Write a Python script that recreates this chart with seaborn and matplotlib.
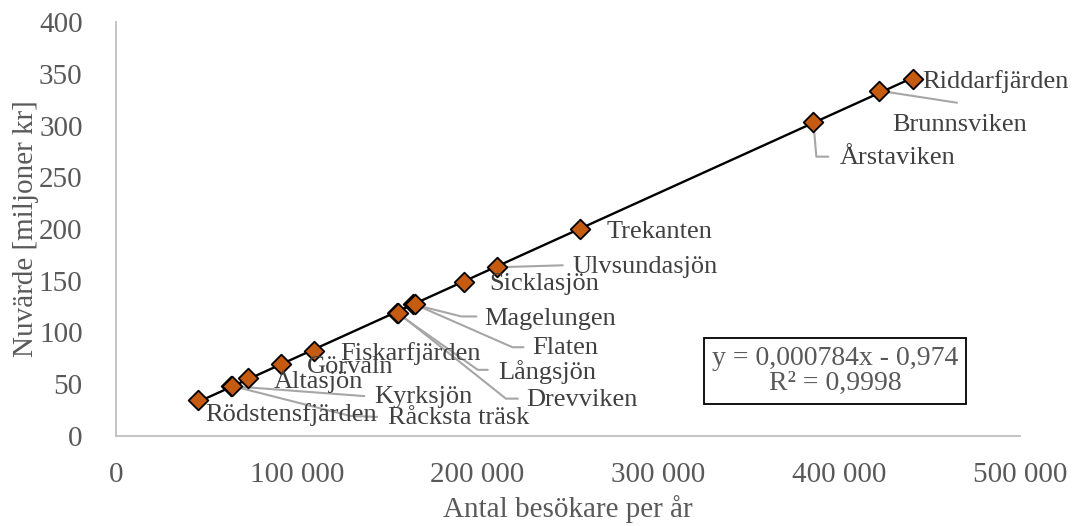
import numpy as np
import pandas as pd
import matplotlib.pyplot as plt
import seaborn as sns

# Data
lakes = ["Rödstensfjärden", "Kyrksjön", "Råcksta träsk", "Altasjön", "Görvaln",
         "Fiskarfjärden", "Långsjön", "Drevviken", "Magelungen", "Flaten",
         "Sicklasjön", "Ulvsundasjön", "Trekanten", "Årstaviken", "Brunnsviken",
         "Riddarfjärden"]
visitors = [45500, 63800, 64200, 73200, 91300,
            109700, 155300, 155900, 164500, 165100,
            192500, 210600, 256600, 385700, 422000,
            440700]
present_value = [34.8, 48.2, 48.4, 56.3, 69.3,
                 82.1, 119.0, 119.2, 127.1, 127.3,
                 149.1, 163.0, 200.0, 303.7, 333.6,
                 344.6]

x_ticks = [0, 100000, 200000, 300000, 400000, 500000]
x_ticklabels = ["0", "100 000", "200 000", "300 000", "400 000", "500 000"]
y_ticks = list(range(0, 401, 50))

# Label layout: text offset from the marker in pixels (right, down),
# and optional leader-line vertices (same units)
label_offsets = {
    "Rödstensfjärden": (7, 15, []),
    "Kyrksjön": (143, 11, [(133, 10)]),
    "Råcksta träsk": (156, 32, [(118, 30), (145, 31)]),
    "Altasjön": (25, 4, []),
    "Görvaln": (26, 3, []),
    "Fiskarfjärden": (26, 2, []),
    "Långsjön": (101, 59, [(81, 57), (91, 57)]),
    "Drevviken": (128, 87, [(108, 86), (120, 86)]),
    "Magelungen": (71, 15, [(48, 12), (63, 12)]),
    "Flaten": (118, 44, [(98, 43), (109, 43)]),
    "Sicklasjön": (25, 2, []),
    "Ulvsundasjön": (76, 0, [(66, -2)]),
    "Trekanten": (27, 3, []),
    "Årstaviken": (26, 36, [(3, 35), (15, 35)]),
    "Brunnsviken": (13, 34, [(78, 12)]),
    "Riddarfjärden": (9, 2, []),
}

df = pd.DataFrame({"lake": lakes, "visitors": visitors, "value": present_value})

sns.set_theme(style="white")
plt.rcParams["font.family"] = ["Liberation Serif", "DejaVu Serif"]

TEXT_GREY = "#595959"
LABEL_GREY = "#404040"
FS = 21

fig, ax = plt.subplots(figsize=(10.73, 5.26), dpi=100)
fig.subplots_adjust(left=116 / 1073, right=1020 / 1073, bottom=1 - 436 / 526, top=1 - 22 / 526)

# trendline
sns.regplot(data=df, x="visitors", y="value", scatter=False, ci=None, truncate=True,
            line_kws={"color": "black", "lw": 1.7, "zorder": 2}, ax=ax)
sns.scatterplot(data=df, x="visitors", y="value", marker="D", s=100, color="#C55A11",
                edgecolor="black", linewidth=1.3, zorder=3, ax=ax)

ax.set_xlim(0, 500000)
ax.set_ylim(0, 400)
ax.set_xticks(x_ticks)
ax.set_xticklabels(x_ticklabels)
ax.set_yticks(y_ticks)
ax.tick_params(axis="both", length=0, labelsize=FS, labelcolor=TEXT_GREY)
ax.tick_params(axis="y", pad=24)
ax.tick_params(axis="x", pad=19)
ax.set_xlabel("Antal besökare per år", fontsize=FS, color=TEXT_GREY, labelpad=5)
ax.set_ylabel("Nuvärde [miljoner kr]", fontsize=FS, color=TEXT_GREY, labelpad=0)
sns.despine(ax=ax)
for side in ["left", "bottom"]:
    ax.spines[side].set_color("#bfbfbf")
    ax.spines[side].set_linewidth(1.3)

# data labels with leader lines
inv = ax.transData.inverted()
for lake, xv, yv in zip(lakes, visitors, present_value):
    dx, dy, leader = label_offsets[lake]
    px, py = ax.transData.transform((xv, yv))
    ax.annotate(lake, (xv, yv), xytext=(dx, -dy), textcoords="offset pixels",
                ha="left", va="center", fontsize=FS - 2, color=LABEL_GREY, zorder=4)
    if leader:
        pts = [(px, py)] + [(px + lx, py - ly) for lx, ly in leader]
        data_pts = inv.transform(pts)
        ax.plot(data_pts[:, 0], data_pts[:, 1], color="#a6a6a6", lw=1.5, zorder=1)

# trendline equation box
bx, by = inv.transform((835, 526 - 371))
ax.text(bx, by, "y = 0,000784x - 0,974\nR² = 0,9998", ha="center", va="center",
        fontsize=FS - 1, color=TEXT_GREY, linespacing=1.0,
        bbox=dict(boxstyle="square,pad=0.3", facecolor="white", edgecolor="black", lw=1.3))

fig.savefig("out.png", dpi=100)
